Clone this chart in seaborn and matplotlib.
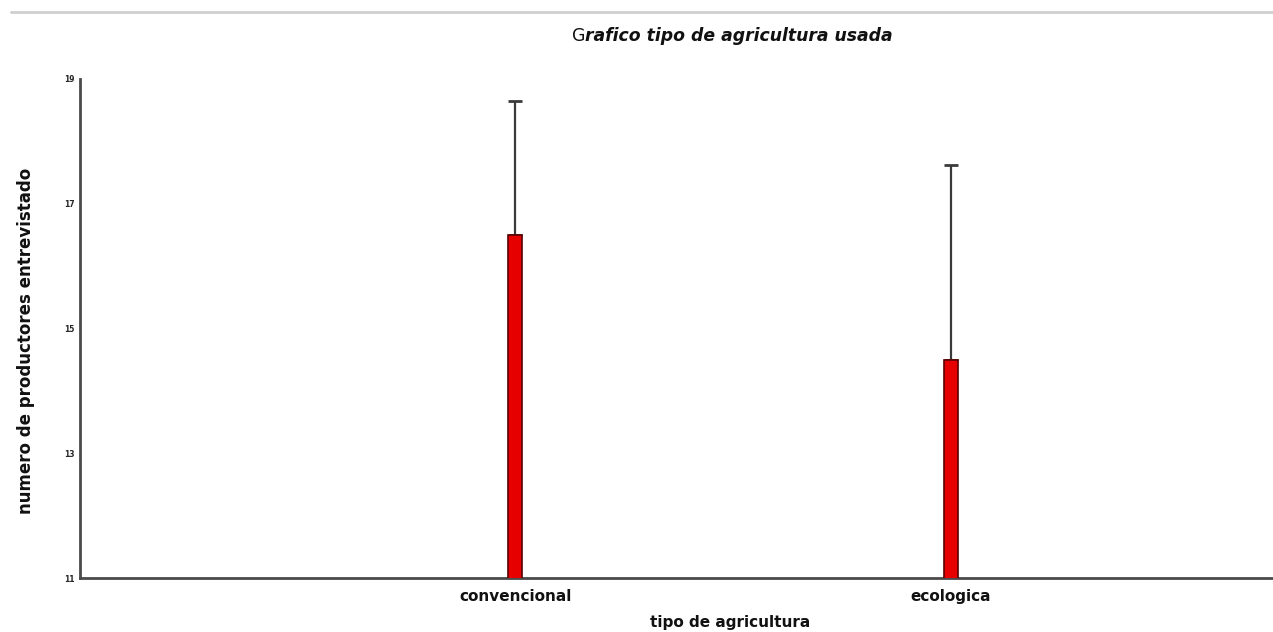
import matplotlib
matplotlib.use("Agg")
import matplotlib.pyplot as plt
import seaborn as sns
import pandas as pd
from matplotlib.lines import Line2D

# Data
categorias = ["convencional", "ecologica"]
media = [16.5, 14.5]
error_sup = [2.15, 3.12]
y_ticks = [11, 13, 15, 17, 19]

sns.set_theme(style="white")
plt.rcParams["font.family"] = ["DejaVu Sans"]

df = pd.DataFrame({"tipo": categorias, "n": media})

fig = plt.figure(figsize=(12.73, 6.32), dpi=100)
ax = fig.add_axes([80 / 1273, 1 - 578 / 632, 1 - 80 / 1273, (578 - 79) / 632])

sns.barplot(data=df, x="tipo", y="n", ax=ax, color="#e60000",
            width=0.032, errorbar=None, edgecolor="#5a0000", linewidth=1.2,
            saturation=1, zorder=3)

# one-sided error bars above each bar
ax.errorbar(range(len(categorias)), media,
            yerr=[[0] * len(media), error_sup],
            fmt="none", ecolor="#3a3a3a", elinewidth=1.6,
            capsize=5, capthick=2, zorder=2)

ax.set_xlim(-1.0, 1.74)
ax.set_ylim(11, 19)
ax.set_yticks(y_ticks)
ax.set_yticklabels([str(v) for v in y_ticks], fontsize=5.5, fontweight="bold")
ax.tick_params(axis="y", length=3, width=1.2, color="#333333", pad=1)
ax.tick_params(axis="x", length=2, width=1.2, color="#333333", pad=6,
               labelsize=11)
for lbl in ax.get_xticklabels():
    lbl.set_fontweight("bold")
    lbl.set_color("#111111")

ax.set_xlabel("tipo de agricultura", fontsize=11, fontweight="bold",
              color="#111111")
ax.xaxis.set_label_coords((730 - 80) / (1273 - 80), -0.075)
ax.set_ylabel("numero de productores entrevistado", fontsize=12,
              fontweight="bold", color="#111111")
ax.yaxis.set_label_coords(-0.038, (578 - 341) / (578 - 79))

sns.despine(ax=ax)
for side in ("left", "bottom"):
    ax.spines[side].set_color("#4a4a4a")
    ax.spines[side].set_linewidth(2)

# title: plain "G" followed by bold oblique text
t1 = fig.text(572 / 1273, 1 - 36 / 632, "G", fontsize=12.4, va="center",
              ha="left", color="#111111")
fig.canvas.draw()
ax.annotate("rafico tipo de agricultura usada", xy=(1, 0), xycoords=t1,
            va="bottom", ha="left", fontsize=12.4, fontweight="bold",
            fontstyle="italic", color="#111111", annotation_clip=False)

# thin frame line along the top of the figure
fig.add_artist(Line2D([11 / 1273, 1], [1 - 11.5 / 632] * 2,
                      transform=fig.transFigure, color="#cfcfcf", lw=2))

fig.savefig("out.png", dpi=100)
